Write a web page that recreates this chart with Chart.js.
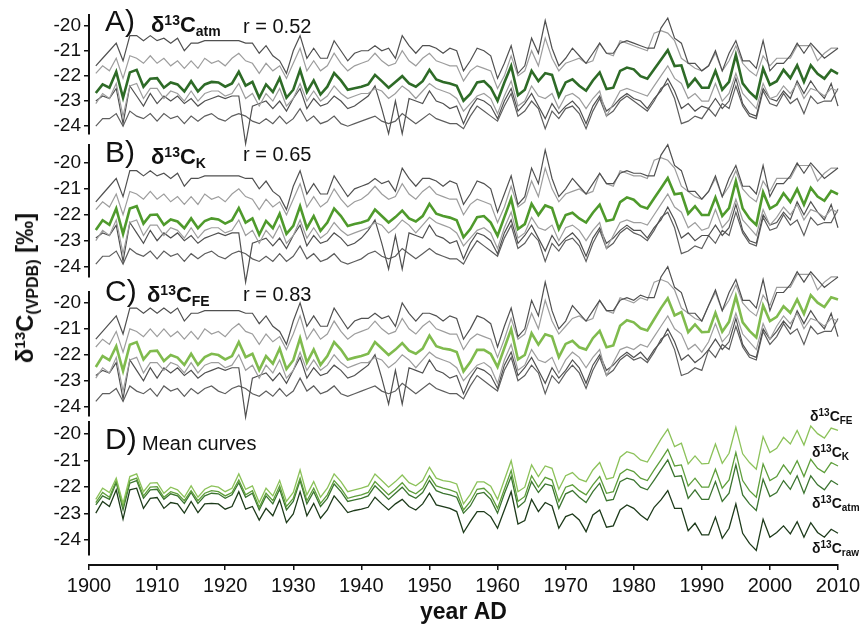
<!DOCTYPE html>
<html>
<head>
<meta charset="utf-8">
<script src="https://cdn.jsdelivr.net/npm/chart.js@4.4.0/dist/chart.umd.min.js"></script>
<style>
  body { margin: 0; background: #fff; width: 865px; height: 632px; overflow: hidden; position: relative;
         font-family: 'Liberation Sans', Arial, sans-serif; color: #111; }
  canvas { position: absolute; left: 0; }
  .lbl { position: absolute; white-space: nowrap; line-height: 1; }
  .big { font-size: 30px; }
  .iso { font-size: 22px; font-weight: bold; }
  .iso .up { font-size: 14px; position: relative; top: -7px; }
  .iso .dn { font-size: 14px; position: relative; top: 4px; }
  .r { font-size: 20px; }
  .tag { font-size: 14px; font-weight: bold; }
  .tag .up { font-size: 10px; position: relative; top: -5px; }
  .tag .dn { font-size: 10px; position: relative; top: 3px; }
  #y-title { position: absolute; left: 25px; top: 288px; white-space: nowrap; line-height: 1;
             font-size: 24px; font-weight: bold; transform: translate(-50%, -50%) rotate(-90deg); }
  #y-title .up { font-size: 15px; position: relative; top: -8px; }
  #y-title .dn { font-size: 16px; position: relative; top: 5px; }
</style>
</head>
<body>
<canvas id="panel-a" width="865" height="179" style="top:-15px"></canvas>
<canvas id="panel-b" width="865" height="192" style="top:115px"></canvas>
<canvas id="panel-c" width="865" height="184" style="top:262px"></canvas>
<canvas id="panel-d" width="865" height="193" style="top:392px"></canvas>
<canvas id="year-axis" width="865" height="75" style="top:560px"></canvas>

<div class="lbl big" style="left:105px; top:6px">A)</div>
<div class="lbl iso" style="left:151px; top:14px">δ<span class="up">13</span>C<span class="dn">atm</span></div>
<div class="lbl r" style="left:243px; top:16px">r = 0.52</div>

<div class="lbl big" style="left:105px; top:137px">B)</div>
<div class="lbl iso" style="left:151px; top:146px">δ<span class="up">13</span>C<span class="dn">K</span></div>
<div class="lbl r" style="left:243px; top:144px">r = 0.65</div>

<div class="lbl big" style="left:105px; top:276px">C)</div>
<div class="lbl iso" style="left:147px; top:284px">δ<span class="up">13</span>C<span class="dn">FE</span></div>
<div class="lbl r" style="left:243px; top:284px">r = 0.83</div>

<div class="lbl big" style="left:105px; top:424px">D)</div>
<div class="lbl r" style="left:142px; top:433px">Mean curves</div>

<div class="lbl tag" style="left:810px; top:409px">δ<span class="up">13</span>C<span class="dn">FE</span></div>
<div class="lbl tag" style="left:812px; top:445px">δ<span class="up">13</span>C<span class="dn">K</span></div>
<div class="lbl tag" style="left:812px; top:496px">δ<span class="up">13</span>C<span class="dn">atm</span></div>
<div class="lbl tag" style="left:812px; top:541px">δ<span class="up">13</span>C<span class="dn">raw</span></div>

<div id="y-title">δ<span class="up">13</span>C<span class="dn">(VPDB)</span> [‰]</div>

<script>
// Years 1901-2010
const years = [];
for (let y = 1901; y <= 2010; y++) years.push(y);

// Mean curves (also the coloured lines of panels A-C)
const meanFE = [
  -22.47, -22.05, -22.21, -21.67, -22.62, -21.61, -21.51, -22.18, -21.86, -21.84,
  -22.24, -22.01, -22.11, -22.39, -21.96, -22.39, -22.09, -21.96, -22.01, -22.18,
  -22.05, -21.51, -22.09, -21.96, -22.59, -22.05, -22.34, -21.76, -22.55, -22.21,
  -21.36, -22.30, -21.80, -22.39, -22.05, -21.51, -21.80, -22.18, -22.11, -22.05,
  -21.96, -21.51, -21.76, -22.01, -21.80, -21.55, -21.84, -21.96, -21.76, -21.26,
  -21.67, -21.76, -21.80, -21.89, -22.64, -22.28, -21.81, -21.81, -21.97, -22.47,
  -21.74, -21.01, -22.18, -22.01, -21.17, -21.61, -21.21, -21.30, -22.09, -21.58,
  -21.46, -21.71, -21.80, -21.36, -21.08, -21.71, -21.64, -20.88, -20.67, -20.75,
  -20.98, -21.06, -20.63, -20.20, -19.82, -20.48, -20.35, -21.13, -20.83, -21.13,
  -21.11, -20.38, -21.11, -20.73, -19.75, -20.75, -21.08, -21.33, -20.10, -20.70,
  -20.54, -20.13, -20.38, -19.87, -20.42, -19.70, -19.99, -20.16, -19.78, -19.87
];
const meanK = [
  -22.59, -22.21, -22.39, -21.76, -22.74, -21.76, -21.67, -22.34, -22.01, -21.99,
  -22.39, -22.18, -22.26, -22.52, -22.14, -22.52, -22.24, -22.14, -22.18, -22.34,
  -22.21, -21.74, -22.30, -22.14, -22.77, -22.24, -22.52, -21.96, -22.74, -22.43,
  -21.67, -22.52, -22.05, -22.62, -22.30, -21.76, -22.05, -22.43, -22.36, -22.30,
  -22.21, -21.80, -22.05, -22.30, -22.09, -21.84, -22.14, -22.26, -22.05, -21.58,
  -21.96, -22.05, -22.11, -22.21, -22.87, -22.55, -22.09, -22.05, -22.30, -22.81,
  -22.09, -21.38, -22.55, -22.36, -21.58, -22.01, -21.64, -21.74, -22.55, -22.01,
  -21.92, -22.14, -22.30, -21.92, -21.61, -22.24, -22.18, -21.51, -21.33, -21.42,
  -21.67, -21.76, -21.36, -20.98, -20.58, -21.21, -21.17, -21.96, -21.67, -22.01,
  -22.01, -21.33, -22.05, -21.74, -20.70, -21.76, -22.14, -22.39, -21.13, -21.76,
  -21.61, -21.17, -21.51, -21.01, -21.61, -20.96, -21.30, -21.46, -21.08, -21.21
];
const meanAtm = [
  -22.68, -22.34, -22.47, -21.84, -22.87, -21.86, -21.76, -22.43, -22.11, -22.09,
  -22.47, -22.26, -22.34, -22.62, -22.21, -22.62, -22.34, -22.24, -22.26, -22.43,
  -22.30, -21.84, -22.39, -22.24, -22.87, -22.34, -22.64, -22.09, -22.87, -22.55,
  -21.76, -22.64, -22.18, -22.74, -22.43, -21.89, -22.18, -22.55, -22.49, -22.43,
  -22.34, -21.96, -22.21, -22.47, -22.24, -22.01, -22.30, -22.43, -22.21, -21.76,
  -22.14, -22.24, -22.30, -22.39, -22.99, -22.72, -22.26, -22.21, -22.47, -22.99,
  -22.26, -21.61, -22.77, -22.55, -21.80, -22.21, -21.89, -21.96, -22.81, -22.26,
  -22.14, -22.39, -22.59, -22.18, -21.86, -22.52, -22.47, -21.80, -21.67, -21.74,
  -22.01, -22.11, -21.74, -21.36, -20.98, -21.61, -21.58, -22.43, -22.11, -22.47,
  -22.47, -21.80, -22.55, -22.24, -21.17, -22.30, -22.64, -22.89, -21.71, -22.36,
  -22.21, -21.76, -22.09, -21.58, -22.24, -21.58, -21.92, -22.11, -21.76, -21.92
];
const meanRaw = [
  -22.99, -22.55, -22.74, -22.11, -23.22, -22.11, -22.05, -22.81, -22.43, -22.40,
  -22.81, -22.59, -22.64, -22.99, -22.55, -22.97, -22.64, -22.62, -22.64, -22.84,
  -22.74, -22.18, -22.84, -22.74, -23.25, -22.81, -23.09, -22.49, -23.35, -23.02,
  -22.18, -23.09, -22.62, -23.18, -22.87, -22.34, -22.64, -22.97, -22.89, -22.84,
  -22.77, -22.39, -22.64, -22.87, -22.64, -22.47, -22.74, -22.87, -22.64, -22.24,
  -22.68, -22.74, -22.81, -22.93, -23.72, -23.31, -22.93, -22.93, -23.12, -23.56,
  -22.87, -22.18, -23.40, -23.27, -22.47, -22.93, -22.59, -22.72, -23.56, -23.12,
  -23.02, -23.25, -23.69, -23.06, -22.87, -23.52, -23.47, -22.87, -22.68, -22.81,
  -23.06, -23.25, -22.77, -22.49, -22.14, -22.81, -22.81, -23.65, -23.37, -23.81,
  -23.81, -23.14, -23.94, -23.56, -22.64, -23.75, -24.13, -24.40, -23.22, -23.90,
  -23.72, -23.47, -23.77, -23.31, -23.90, -23.35, -23.72, -23.90, -23.60, -23.75
];

// Single trees, panel A (atm corrected)
const treeA1 = [
  -21.6, -21.3, -21.0, -20.7, -21.4, -20.4, -20.4, -20.6, -20.4, -20.6,
  -20.5, -20.7, -20.5, -21.0, -20.7, -20.7, -20.6, -20.6, -20.6, -20.6,
  -20.6, -20.6, -20.7, -20.7, -21.1, -20.8, -21.2, -21.4, -21.9, -21.0,
  -20.4, -21.3, -20.9, -21.3, -21.3, -20.6, -21.0, -21.4, -21.1, -21.0,
  -21.0, -20.8, -21.0, -20.9, -21.3, -20.4, -20.8, -21.1, -20.8, -20.8,
  -20.9, -21.1, -20.9, -21.0, -21.8, -21.4, -20.9, -21.0, -21.2, -22.1,
  -21.5, -20.8, -21.9, -21.6, -20.5, -21.1, -19.8, -20.9, -21.6, -21.3,
  -20.9, -21.2, -21.5, -21.1, -20.7, -21.1, -21.1, -20.7, -20.6, -20.7,
  -20.8, -20.9, -20.9, -20.1, -19.7, -20.5, -20.7, -21.5, -21.5, -21.8,
  -21.6, -21.0, -21.8, -21.1, -20.6, -21.4, -21.4, -21.7, -20.6, -21.8,
  -21.5, -21.5, -21.2, -20.7, -21.1, -20.7, -21.0, -21.3, -21.1, -20.9
];
const treeA2 = [
  -21.9, -21.6, -21.8, -21.3, -22.1, -21.2, -21.3, -21.5, -21.2, -21.5,
  -21.3, -21.6, -21.4, -21.7, -21.4, -21.7, -21.3, -21.5, -21.4, -21.6,
  -21.3, -21.1, -21.4, -21.5, -21.9, -21.5, -21.8, -21.6, -22.1, -21.5,
  -20.9, -21.8, -21.4, -21.8, -21.6, -21.1, -21.5, -21.8, -21.6, -21.5,
  -21.4, -21.1, -21.4, -21.6, -21.5, -21.0, -21.4, -21.6, -21.3, -21.1,
  -21.4, -21.5, -21.6, -21.6, -22.2, -21.8, -21.6, -21.7, -21.8, -22.5,
  -22.0, -21.2, -22.0, -21.8, -21.0, -21.6, -20.5, -21.3, -21.8, -21.5,
  -21.4, -21.3, -21.5, -21.4, -20.7, -21.1, -21.2, -20.6, -20.7, -20.8,
  -20.9, -21.0, -20.3, -20.2, -20.3, -20.6, -21.3, -21.5, -21.7, -21.8,
  -21.6, -21.1, -21.8, -21.4, -20.8, -21.5, -21.8, -22.0, -21.2, -21.6,
  -21.3, -21.3, -21.3, -20.8, -20.8, -20.8, -21.4, -21.1, -20.9, -20.9
];
const treeA3 = [
  -23.1, -22.7, -22.9, -22.3, -23.6, -22.4, -22.3, -22.9, -22.5, -22.5,
  -22.9, -22.6, -22.7, -23.0, -22.6, -23.0, -22.7, -22.6, -22.6, -22.8,
  -22.7, -22.3, -22.9, -22.7, -23.2, -22.7, -23.0, -22.5, -23.2, -22.9,
  -22.3, -23.0, -22.6, -23.0, -22.8, -22.4, -22.7, -22.9, -22.8, -22.7,
  -22.7, -22.5, -22.6, -22.9, -22.7, -22.4, -22.6, -22.9, -22.6, -22.3,
  -22.5, -22.6, -22.7, -22.9, -23.4, -23.1, -22.8, -22.7, -22.9, -23.5,
  -22.8, -22.2, -23.2, -23.0, -22.4, -22.8, -22.9, -22.7, -23.3, -22.8,
  -22.7, -22.9, -23.3, -22.9, -22.6, -23.6, -23.1, -22.6, -22.5, -22.6,
  -22.7, -22.8, -22.4, -22.0, -21.6, -22.1, -22.3, -22.9, -22.7, -23.0,
  -23.0, -22.3, -23.0, -22.7, -21.9, -22.7, -23.0, -23.3, -22.3, -22.9,
  -22.8, -22.4, -22.7, -22.3, -22.9, -22.5, -22.6, -22.8, -22.5, -22.6
];
const treeA4 = [
  -23.0, -22.8, -22.9, -22.5, -23.9, -22.4, -22.8, -23.2, -22.7, -23.1,
  -22.8, -23.0, -22.8, -23.1, -22.9, -23.2, -23.0, -22.9, -22.8, -22.9,
  -22.8, -22.8, -24.7, -23.2, -23.1, -23.0, -23.3, -23.0, -23.4, -22.9,
  -22.5, -23.3, -22.9, -23.2, -23.1, -22.8, -23.0, -23.3, -23.2, -23.0,
  -22.8, -22.4, -23.3, -24.3, -23.0, -24.3, -22.9, -23.0, -23.1, -22.6,
  -23.0, -23.1, -23.3, -23.2, -23.9, -23.3, -22.9, -23.0, -23.2, -23.7,
  -23.0, -22.5, -23.4, -23.1, -22.7, -23.2, -23.7, -23.1, -23.5, -23.2,
  -23.0, -23.3, -23.9, -23.2, -22.8, -23.4, -23.2, -22.9, -22.7, -22.9,
  -23.0, -23.3, -22.9, -22.6, -22.1, -22.6, -23.3, -23.1, -23.4, -23.2,
  -23.3, -22.9, -23.3, -23.0, -22.1, -23.1, -23.5, -23.6, -22.5, -22.9,
  -23.0, -22.6, -22.9, -22.2, -22.7, -22.2, -22.6, -22.9, -22.3, -23.2
];
const treeA5 = [
  -24.0, -23.7, -23.7, -23.5, -24.0, -23.4, -23.6, -23.7, -23.5, -23.8,
  -23.5, -23.7, -23.6, -23.9, -23.6, -23.8, -23.6, -23.5, -23.7, -23.8,
  -23.6, -23.5, -23.6, -23.8, -23.9, -23.7, -23.9, -23.6, -23.9, -23.7,
  -23.3, -23.8, -23.6, -23.9, -23.8, -23.6, -23.9, -24.0, -23.9, -23.8,
  -23.7, -23.6, -23.8, -23.9, -23.8, -23.5, -23.7, -23.9, -23.7, -23.5,
  -23.7, -23.8, -23.9, -23.9, -24.1, -23.6, -23.2, -23.4, -23.6, -23.8,
  -23.2, -22.7, -23.6, -23.4, -23.0, -23.3, -24.1, -23.4, -23.7, -23.3,
  -23.2, -23.5, -24.1, -23.4, -22.9, -23.6, -23.4, -23.0, -22.8, -23.0,
  -23.2, -23.4, -23.0, -22.5, -22.3, -22.9, -23.9, -23.8, -23.6, -23.7,
  -23.3, -23.6, -23.1, -23.3, -22.4, -23.2, -23.6, -23.7, -22.6, -23.1,
  -23.2, -22.7, -23.1, -22.9, -23.5, -22.8, -23.1, -23.0, -23.0, -22.5
];

// Single trees, panel B (K corrected)
const treeB1 = [
  -21.5, -21.2, -20.9, -20.6, -21.3, -20.3, -20.3, -20.5, -20.3, -20.5,
  -20.4, -20.6, -20.4, -20.9, -20.6, -20.6, -20.5, -20.5, -20.5, -20.5,
  -20.5, -20.5, -20.6, -20.6, -21.0, -20.7, -21.1, -21.3, -21.8, -20.9,
  -20.3, -21.2, -20.8, -21.2, -21.2, -20.5, -20.9, -21.3, -21.0, -20.9,
  -20.8, -20.6, -20.8, -20.7, -21.1, -20.2, -20.6, -20.9, -20.6, -20.6,
  -20.7, -20.9, -20.7, -20.8, -21.6, -21.2, -20.7, -20.8, -21.0, -21.9,
  -21.2, -20.5, -21.6, -21.3, -20.2, -20.8, -19.5, -20.6, -21.3, -21.0,
  -20.6, -20.9, -21.2, -20.8, -20.4, -20.8, -20.8, -20.4, -20.3, -20.4,
  -20.4, -20.5, -20.5, -19.7, -19.3, -20.1, -20.3, -21.1, -21.1, -21.4,
  -21.1, -20.5, -21.3, -20.6, -20.1, -20.9, -20.9, -21.2, -20.1, -21.3,
  -20.8, -20.8, -20.5, -20.0, -20.4, -20.0, -20.3, -20.6, -20.4, -20.2
];
const treeB2 = [
  -21.8, -21.5, -21.7, -21.2, -22.0, -21.1, -21.2, -21.4, -21.1, -21.4,
  -21.2, -21.5, -21.3, -21.6, -21.3, -21.6, -21.2, -21.4, -21.3, -21.5,
  -21.2, -21.0, -21.3, -21.4, -21.8, -21.4, -21.7, -21.5, -22.0, -21.4,
  -20.8, -21.7, -21.3, -21.7, -21.5, -21.0, -21.4, -21.7, -21.5, -21.4,
  -21.2, -20.9, -21.2, -21.4, -21.3, -20.8, -21.2, -21.4, -21.1, -20.9,
  -21.2, -21.3, -21.4, -21.4, -22.0, -21.6, -21.4, -21.5, -21.6, -22.3,
  -21.7, -20.9, -21.7, -21.5, -20.7, -21.3, -20.2, -21.0, -21.5, -21.2,
  -21.1, -21.0, -21.2, -21.1, -20.4, -20.8, -20.9, -20.3, -20.4, -20.5,
  -20.5, -20.6, -19.9, -19.8, -19.9, -20.2, -20.9, -21.1, -21.3, -21.4,
  -21.1, -20.6, -21.3, -20.9, -20.3, -21.0, -21.3, -21.5, -20.7, -21.1,
  -20.6, -20.6, -20.6, -20.1, -20.1, -20.1, -20.7, -20.4, -20.2, -20.2
];
const treeB3 = [
  -23.0, -22.6, -22.8, -22.2, -23.5, -22.3, -22.2, -22.8, -22.4, -22.4,
  -22.8, -22.5, -22.6, -22.9, -22.5, -22.9, -22.6, -22.5, -22.5, -22.7,
  -22.6, -22.2, -22.8, -22.6, -23.1, -22.6, -22.9, -22.4, -23.1, -22.8,
  -22.2, -22.9, -22.5, -22.9, -22.7, -22.3, -22.6, -22.8, -22.7, -22.6,
  -22.5, -22.3, -22.4, -22.7, -22.5, -22.2, -22.4, -22.7, -22.4, -22.1,
  -22.3, -22.4, -22.5, -22.7, -23.2, -22.9, -22.6, -22.5, -22.7, -23.3,
  -22.5, -21.9, -22.9, -22.7, -22.1, -22.5, -22.6, -22.4, -23.0, -22.5,
  -22.4, -22.6, -23.0, -22.6, -22.3, -23.3, -22.8, -22.3, -22.2, -22.3,
  -22.3, -22.4, -22.0, -21.6, -21.2, -21.7, -21.9, -22.5, -22.3, -22.6,
  -22.5, -21.8, -22.5, -22.2, -21.4, -22.2, -22.5, -22.8, -21.8, -22.4,
  -22.1, -21.7, -22.0, -21.6, -22.2, -21.8, -21.9, -22.1, -21.8, -21.9
];
const treeB4 = [
  -22.9, -22.7, -22.8, -22.4, -23.8, -22.3, -22.7, -23.1, -22.6, -23.0,
  -22.7, -22.9, -22.7, -23.0, -22.8, -23.1, -22.9, -22.8, -22.7, -22.8,
  -22.7, -22.7, -24.6, -23.1, -23.0, -22.9, -23.2, -22.9, -23.3, -22.8,
  -22.4, -23.2, -22.8, -23.1, -23.0, -22.7, -22.9, -23.2, -23.1, -22.9,
  -22.6, -22.2, -23.1, -24.1, -22.8, -24.1, -22.7, -22.8, -22.9, -22.4,
  -22.8, -22.9, -23.1, -23.0, -23.7, -23.1, -22.7, -22.8, -23.0, -23.5,
  -22.7, -22.2, -23.1, -22.8, -22.4, -22.9, -23.4, -22.8, -23.2, -22.9,
  -22.7, -23.0, -23.6, -22.9, -22.5, -23.1, -22.9, -22.6, -22.4, -22.6,
  -22.6, -22.9, -22.5, -22.2, -21.7, -22.2, -22.9, -22.7, -23.0, -22.8,
  -22.8, -22.4, -22.8, -22.5, -21.6, -22.6, -23.0, -23.1, -22.0, -22.4,
  -22.3, -21.9, -22.2, -21.5, -22.0, -21.5, -21.9, -22.2, -21.6, -22.5
];
const treeB5 = [
  -23.9, -23.6, -23.6, -23.4, -23.9, -23.3, -23.5, -23.6, -23.4, -23.7,
  -23.4, -23.6, -23.5, -23.8, -23.5, -23.7, -23.5, -23.4, -23.6, -23.7,
  -23.5, -23.4, -23.5, -23.7, -23.8, -23.6, -23.8, -23.5, -23.8, -23.6,
  -23.2, -23.7, -23.5, -23.8, -23.7, -23.5, -23.8, -23.9, -23.8, -23.7,
  -23.5, -23.4, -23.6, -23.7, -23.6, -23.3, -23.5, -23.7, -23.5, -23.3,
  -23.5, -23.6, -23.7, -23.7, -23.9, -23.4, -23.0, -23.2, -23.4, -23.6,
  -22.9, -22.4, -23.3, -23.1, -22.7, -23.0, -23.8, -23.1, -23.4, -23.0,
  -22.9, -23.2, -23.8, -23.1, -22.6, -23.3, -23.1, -22.7, -22.5, -22.7,
  -22.8, -23.0, -22.6, -22.1, -21.9, -22.5, -23.5, -23.4, -23.2, -23.3,
  -22.8, -23.1, -22.6, -22.8, -21.9, -22.7, -23.1, -23.2, -22.1, -22.6,
  -22.5, -22.0, -22.4, -22.2, -22.8, -22.1, -22.4, -22.3, -22.3, -21.8
];

// Single trees, panel C (FE corrected)
const treeC1 = [
  -21.4, -21.1, -20.8, -20.5, -21.2, -20.2, -20.2, -20.4, -20.2, -20.4,
  -20.2, -20.4, -20.2, -20.7, -20.4, -20.4, -20.3, -20.3, -20.3, -20.3,
  -20.3, -20.3, -20.4, -20.4, -20.8, -20.5, -20.9, -21.1, -21.6, -20.7,
  -20.0, -20.9, -20.5, -20.9, -20.9, -20.2, -20.6, -21.0, -20.7, -20.6,
  -20.6, -20.4, -20.6, -20.5, -20.9, -20.0, -20.4, -20.7, -20.4, -20.4,
  -20.5, -20.7, -20.5, -20.6, -21.4, -21.0, -20.5, -20.6, -20.8, -21.7,
  -20.9, -20.2, -21.3, -21.0, -19.9, -20.5, -19.2, -20.3, -21.0, -20.7,
  -20.1, -20.4, -20.7, -20.3, -19.9, -20.3, -20.3, -19.9, -19.8, -19.9,
  -19.7, -19.8, -19.8, -19.0, -18.6, -19.4, -19.6, -20.4, -20.4, -20.7,
  -20.1, -19.5, -20.3, -19.6, -19.1, -19.9, -19.9, -20.2, -19.1, -20.3,
  -19.6, -19.6, -19.3, -18.8, -19.2, -18.8, -19.1, -19.4, -19.2, -19.0
];
const treeC2 = [
  -21.7, -21.4, -21.6, -21.1, -21.9, -21.0, -21.1, -21.3, -21.0, -21.3,
  -21.0, -21.3, -21.1, -21.4, -21.1, -21.4, -21.0, -21.2, -21.1, -21.3,
  -21.0, -20.8, -21.1, -21.2, -21.6, -21.2, -21.5, -21.3, -21.8, -21.2,
  -20.5, -21.4, -21.0, -21.4, -21.2, -20.7, -21.1, -21.4, -21.2, -21.1,
  -21.0, -20.7, -21.0, -21.2, -21.1, -20.6, -21.0, -21.2, -20.9, -20.7,
  -21.0, -21.1, -21.2, -21.2, -21.8, -21.4, -21.2, -21.3, -21.4, -22.1,
  -21.4, -20.6, -21.4, -21.2, -20.4, -21.0, -19.9, -20.7, -21.2, -20.9,
  -20.6, -20.5, -20.7, -20.6, -19.9, -20.3, -20.4, -19.8, -19.9, -20.0,
  -19.8, -19.9, -19.2, -19.1, -19.2, -19.5, -20.2, -20.4, -20.6, -20.7,
  -20.1, -19.6, -20.3, -19.9, -19.3, -20.0, -20.3, -20.5, -19.7, -20.1,
  -19.4, -19.4, -19.4, -18.9, -18.9, -18.9, -19.5, -19.2, -19.0, -19.0
];
const treeC3 = [
  -22.9, -22.5, -22.7, -22.1, -23.4, -22.2, -22.1, -22.7, -22.3, -22.3,
  -22.6, -22.3, -22.4, -22.7, -22.3, -22.7, -22.4, -22.3, -22.3, -22.5,
  -22.4, -22.0, -22.6, -22.4, -22.9, -22.4, -22.7, -22.2, -22.9, -22.6,
  -21.9, -22.6, -22.2, -22.6, -22.4, -22.0, -22.3, -22.5, -22.4, -22.3,
  -22.3, -22.1, -22.2, -22.5, -22.3, -22.0, -22.2, -22.5, -22.2, -21.9,
  -22.1, -22.2, -22.3, -22.5, -23.0, -22.7, -22.4, -22.3, -22.5, -23.1,
  -22.2, -21.6, -22.6, -22.4, -21.8, -22.2, -22.3, -22.1, -22.7, -22.2,
  -21.9, -22.1, -22.5, -22.1, -21.8, -22.8, -22.3, -21.8, -21.7, -21.8,
  -21.6, -21.7, -21.3, -20.9, -20.5, -21.0, -21.2, -21.8, -21.6, -21.9,
  -21.5, -20.8, -21.5, -21.2, -20.4, -21.2, -21.5, -21.8, -20.8, -21.4,
  -20.9, -20.5, -20.8, -20.4, -21.0, -20.6, -20.7, -20.9, -20.6, -20.7
];
const treeC4 = [
  -22.8, -22.6, -22.7, -22.3, -23.7, -22.2, -22.6, -23.0, -22.5, -22.9,
  -22.5, -22.7, -22.5, -22.8, -22.6, -22.9, -22.7, -22.6, -22.5, -22.6,
  -22.5, -22.5, -24.4, -22.9, -22.8, -22.7, -23.0, -22.7, -23.1, -22.6,
  -22.1, -22.9, -22.5, -22.8, -22.7, -22.4, -22.6, -22.9, -22.8, -22.6,
  -22.4, -22.0, -22.9, -23.9, -22.6, -23.9, -22.5, -22.6, -22.7, -22.2,
  -22.6, -22.7, -22.9, -22.8, -23.5, -22.9, -22.5, -22.6, -22.8, -23.3,
  -22.4, -21.9, -22.8, -22.5, -22.1, -22.6, -23.1, -22.5, -22.9, -22.6,
  -22.2, -22.5, -23.1, -22.4, -22.0, -22.6, -22.4, -22.1, -21.9, -22.1,
  -21.9, -22.2, -21.8, -21.5, -21.0, -21.5, -22.2, -22.0, -22.3, -22.1,
  -21.8, -21.4, -21.8, -21.5, -20.6, -21.6, -22.0, -22.1, -21.0, -21.4,
  -21.1, -20.7, -21.0, -20.3, -20.8, -20.3, -20.7, -21.0, -20.4, -21.3
];
const treeC5 = [
  -23.8, -23.5, -23.5, -23.3, -23.8, -23.2, -23.4, -23.5, -23.3, -23.6,
  -23.2, -23.4, -23.3, -23.6, -23.3, -23.5, -23.3, -23.2, -23.4, -23.5,
  -23.3, -23.2, -23.3, -23.5, -23.6, -23.4, -23.6, -23.3, -23.6, -23.4,
  -22.9, -23.4, -23.2, -23.5, -23.4, -23.2, -23.5, -23.6, -23.5, -23.4,
  -23.3, -23.2, -23.4, -23.5, -23.4, -23.1, -23.3, -23.5, -23.3, -23.1,
  -23.3, -23.4, -23.5, -23.5, -23.7, -23.2, -22.8, -23.0, -23.2, -23.4,
  -22.6, -22.1, -23.0, -22.8, -22.4, -22.7, -23.5, -22.8, -23.1, -22.7,
  -22.4, -22.7, -23.3, -22.6, -22.1, -22.8, -22.6, -22.2, -22.0, -22.2,
  -22.1, -22.3, -21.9, -21.4, -21.2, -21.8, -22.8, -22.7, -22.5, -22.6,
  -21.8, -22.1, -21.6, -21.8, -20.9, -21.7, -22.1, -22.2, -21.1, -21.6,
  -21.3, -20.8, -21.2, -21.0, -21.6, -20.9, -21.2, -21.1, -21.1, -20.6
];

const darkGray = '#505050';
const lightGray = '#9d9d9d';

Chart.defaults.font.family = "'Liberation Sans', Arial, sans-serif";
Chart.defaults.color = '#111';

// Function to pair values with years
function toPoints(values) {
  return values.map((v, i) => ({ x: years[i], y: v }));
}

// Function to build a line dataset
function lineSet(values, color, width) {
  return {
    data: toPoints(values),
    borderColor: color,
    borderWidth: width,
    pointRadius: 0,
    tension: 0,
    fill: false,
    clip: false
  };
}

// Function to draw one panel with its own y axis
function makePanel(canvasId, yMin, yMax, datasets) {
  return new Chart(document.getElementById(canvasId), {
    type: 'line',
    data: { datasets: datasets },
    options: {
      responsive: false,
      animation: false,
      events: [],
      layout: { padding: { left: 30, right: 27, top: 30, bottom: 30 } },
      plugins: { legend: { display: false }, tooltip: { enabled: false } },
      scales: {
        x: { type: 'linear', min: 1900, max: 2010, display: false },
        y: {
          min: yMin,
          max: yMax,
          afterFit: (scale) => { scale.width = 59; },
          ticks: { stepSize: 1, includeBounds: false, font: { size: 19 }, color: '#111', padding: 3 },
          grid: { drawOnChartArea: false, drawTicks: true, tickLength: 5, color: '#111', lineWidth: 1.5 },
          border: { display: true, color: '#111', width: 2 }
        }
      }
    }
  });
}

// Function to build the five single-tree lines of a panel
function treeSets(t1, t2, t3, t4, t5) {
  return [
    lineSet(t1, darkGray, 1.2),
    lineSet(t2, lightGray, 1.2),
    lineSet(t3, lightGray, 1.2),
    lineSet(t4, darkGray, 1.2),
    lineSet(t5, '#5e5e5e', 1.2)
  ];
}

makePanel('panel-a', -24.31, -19.58,
  [lineSet(meanAtm, '#2e6b27', 2.6)].concat(treeSets(treeA1, treeA2, treeA3, treeA4, treeA5)));
makePanel('panel-b', -24.40, -19.31,
  [lineSet(meanK, '#4f9a2c', 2.6)].concat(treeSets(treeB1, treeB2, treeB3, treeB4, treeB5)));
makePanel('panel-c', -24.36, -19.58,
  [lineSet(meanFE, '#80bb4e', 2.6)].concat(treeSets(treeC1, treeC2, treeC3, treeC4, treeC5)));
makePanel('panel-d', -24.57, -19.55, [
  lineSet(meanFE, '#8cc25a', 1.3),
  lineSet(meanK, '#5d9e3a', 1.3),
  lineSet(meanAtm, '#3b7430', 1.3),
  lineSet(meanRaw, '#1d3a1a', 1.3)
]);

// Shared year axis at the bottom
new Chart(document.getElementById('year-axis'), {
  type: 'line',
  data: { datasets: [] },
  options: {
    responsive: false,
    animation: false,
    events: [],
    layout: { padding: { left: 89, right: 27, top: 0, bottom: 9 } },
    plugins: { legend: { display: false }, tooltip: { enabled: false } },
    scales: {
      x: {
        type: 'linear',
        min: 1900,
        max: 2010,
        afterFit: (scale) => { scale.height = 61; },
        ticks: { stepSize: 10, font: { size: 20 }, color: '#111', padding: 4, maxRotation: 0, autoSkip: false,
                 callback: (v) => String(v) },
        grid: { drawOnChartArea: false, drawTicks: true, tickLength: 5, color: '#111', lineWidth: 1.5 },
        border: { display: true, color: '#111', width: 2 },
        title: { display: true, text: 'year AD', font: { size: 23, weight: 'bold' }, color: '#111', padding: 0 }
      },
      y: { display: false, min: 0, max: 1 }
    }
  }
});
</script>
</body>
</html>
